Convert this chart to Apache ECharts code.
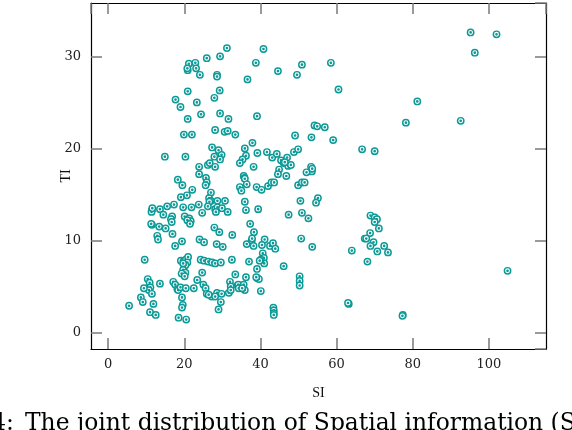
<!DOCTYPE html>
<html>
<head>
<meta charset="utf-8">
<script src="https://cdn.jsdelivr.net/npm/echarts@6/dist/echarts.min.js"></script>
<style>
html,body{margin:0;padding:0;background:#fff;}
#main{width:572px;height:430px;}
</style>
</head>
<body>
<div id="main"></div>
<script>
var siValues = [
31.2,40.8,25.9,29.4,21.2,22.9,38.8,20.9,20.8,23.1,24.1,28.6,28.6,44.6,36.6,20.9,29.3,17.7,27.9,23.3,
19.0,24.4,29.4,20.9,31.6,39.1,28.1,30.6,31.4,33.4,19.9,22.0,37.9,27.3,29.0,35.9,14.9,20.3,27.9,29.8,
29.4,39.2,41.7,43.1,44.3,36.2,35.3,34.6,47.0,45.4,46.1,47.3,26.2,26.7,28.1,23.9,38.2,23.9,18.3,25.7,
35.6,35.8,44.9,44.6,46.8,
95.2,102.0,96.3,50.9,58.5,49.6,60.5,81.2,78.2,92.6,54.2,54.9,56.9,49.1,53.4,59.1,66.7,70.0,48.8,49.9,
48.0,46.4,53.3,53.5,52.1,53.6,49.9,50.9,51.6,55.1,54.6,50.5,47.4,50.9,52.6,50.7,53.6,46.1,50.3,50.3,
50.3,63.2,63.0,77.4,77.3,68.9,70.0,70.6,70.0,71.1,68.8,67.4,67.8,69.7,68.9,72.5,70.7,73.5,64.0,68.1,
104.9,
19.5,25.9,25.6,22.1,20.7,19.1,27.0,26.5,27.0,26.6,28.7,30.7,26.2,23.8,21.9,19.7,17.3,15.5,13.6,11.5,
11.4,11.6,14.5,16.8,16.5,16.7,20.1,21.3,21.7,20.8,21.5,24.7,28.1,28.7,28.3,29.9,31.4,11.5,11.3,13.4,
15.1,16.9,12.9,13.1,17.6,19.4,27.9,29.2,32.6,24.0,25.2,28.5,30.1,9.6,19.1,19.9,20.4,21.0,20.8,20.3,
19.7,24.3,25.2,26.3,27.3,28.1,29.6,32.5,19.7,20.3,19.3,20.1,24.7,23.4,10.4,10.9,11.1,10.7,9.4,11.5,
13.6,8.6,9.1,5.5,11.9,11.0,12.5,17.1,17.6,18.2,18.4,19.0,20.4,22.5,19.4,19.6,19.4,25.0,25.6,25.9,
27.2,26.4,28.6,29.8,31.7,28.1,32.0,32.2,32.2,33.4,34.0,29.6,29.0,18.5,20.5,
35.9,34.6,35.0,36.4,39.0,40.3,42.0,42.9,43.6,35.9,36.2,39.4,37.3,38.3,36.4,37.7,38.2,37.8,41.1,40.4,
42.5,43.3,43.9,40.6,40.9,41.0,40.1,39.8,37.0,39.1,36.2,39.2,39.6,38.9,34.2,35.6,35.9,34.3,35.2,40.1,
43.4,43.5,43.5,43.5
];
var tiValues = [
30.9,30.8,29.8,30.0,29.2,29.3,29.3,28.5,28.7,28.7,28.0,28.0,27.8,28.4,27.5,26.2,26.3,25.3,25.5,25.0,
24.5,23.7,23.8,23.2,23.2,23.5,22.0,21.8,21.9,21.5,21.5,21.5,20.6,20.1,19.8,20.0,19.1,19.1,19.1,19.3,
18.8,19.5,19.6,19.0,19.4,19.2,18.8,18.4,19.0,18.7,18.4,18.1,18.2,18.4,18.0,18.0,18.0,17.2,16.6,16.8,
17.0,16.8,17.7,17.2,17.0,
32.6,32.4,30.4,29.1,29.3,28.0,26.4,25.1,22.8,23.0,22.5,22.4,22.3,21.4,21.2,20.9,19.9,19.7,19.6,19.9,
18.2,18.5,18.0,17.5,17.4,17.8,16.0,16.3,16.3,14.6,14.1,14.3,12.8,13.0,12.4,10.2,9.3,7.2,6.1,5.6,
5.1,3.1,3.2,1.9,1.8,12.7,12.5,12.3,12.0,11.3,10.8,10.2,10.2,9.8,9.4,9.4,8.8,8.7,8.9,7.7,
6.7,
16.0,16.3,16.0,15.5,14.9,14.7,15.2,14.6,14.3,14.2,14.3,14.3,13.7,13.9,13.6,13.6,13.9,13.7,13.4,13.3,
13.1,13.5,12.8,12.6,12.3,12.0,12.6,12.4,12.1,12.2,11.8,13.0,13.4,13.6,13.1,13.5,13.1,11.7,11.8,11.5,
11.3,10.7,10.5,10.1,9.4,9.9,11.4,10.9,10.6,10.1,9.8,9.6,9.3,7.9,7.8,7.8,7.9,8.2,7.6,7.3,
7.5,7.9,7.8,7.7,7.6,7.5,7.6,7.9,6.8,6.5,6.4,6.1,6.5,5.7,5.8,5.4,4.9,4.6,4.8,4.2,
5.3,3.8,3.3,2.9,3.1,2.2,1.9,5.5,5.2,4.7,4.6,4.9,4.8,4.8,3.8,3.0,2.7,5.2,4.8,4.2,
3.9,4.1,4.3,4.2,4.3,3.9,5.5,5.0,4.6,6.3,5.1,3.3,2.5,1.6,1.4,
16.7,15.8,15.4,16.1,15.8,15.5,15.9,16.3,16.3,14.2,13.3,13.4,11.8,10.9,9.6,10.0,9.4,10.2,10.1,9.5,
9.4,9.7,9.1,8.6,8.1,7.5,7.9,7.8,7.7,6.9,6.0,5.9,5.8,6.0,5.2,5.2,4.6,4.8,4.8,4.5,
2.7,2.4,2.1,1.9
];
var xTickStep = 20, yTickStep = 10;
var xLabelName = 'SI', yLabelName = 'TI';
var captionPrefix = 'Fig. 4:';
var captionText = 'The joint distribution of Spatial information (SI) and Temporal information (TI)';

var teal = '#0b9a97';
var pts = siValues.map(function(v, i){ return [v, tiValues[i]]; });
var tickFont = 'DejaVu Serif';
var nameFont = 'Liberation Serif';
function tickStyle(){ return {show: true, inside: true, length: 11, lineStyle: {color: '#7a7a7a', width: 1.5}}; }

function xAx(pos, showLabel){
  return {
    type: 'value', position: pos, min: -4.5, max: 115, show: true,
    minInterval: xTickStep, maxInterval: xTickStep, splitNumber: 6,
    name: showLabel ? xLabelName : '', nameLocation: 'middle', nameGap: 37, nameMoveOverlap: false,
    nameTextStyle: {fontFamily: nameFont, fontSize: 14, color: '#111'},
    axisLine: {show: true, onZero: false, lineStyle: {color: '#000', width: 1.2}},
    axisTick: tickStyle(),
    axisLabel: {show: showLabel, fontFamily: tickFont, fontSize: 13, color: '#222', margin: 9,
                showMinLabel: false, showMaxLabel: false},
    splitLine: {show: false}
  };
}
function yAx(pos, showLabel){
  return {
    type: 'value', position: pos, min: -1.8, max: 35.8, show: true,
    minInterval: yTickStep, maxInterval: yTickStep, splitNumber: 4,
    name: showLabel ? yLabelName : '', nameLocation: 'middle', nameGap: 18, nameRotate: 90, nameMoveOverlap: false,
    nameTextStyle: {fontFamily: nameFont, fontSize: 14, color: '#111'},
    axisLine: {show: true, onZero: false, lineStyle: {color: '#000', width: 1.2}},
    axisTick: tickStyle(),
    axisLabel: {show: showLabel, fontFamily: tickFont, fontSize: 13, color: '#222', margin: 10,
                showMinLabel: false, showMaxLabel: false},
    splitLine: {show: false}
  };
}

var chart = echarts.init(document.getElementById('main'), null, {renderer: 'canvas'});
chart.setOption({
  animation: false,
  backgroundColor: '#fff',
  grid: {left: 91, right: 26, top: 3, bottom: 81},
  xAxis: [xAx('bottom', true), xAx('top', false)],
  yAxis: [yAx('left', true), yAx('right', false)],
  series: [{
    type: 'custom',
    xAxisIndex: 0, yAxisIndex: 0,
    data: pts,
    renderItem: function(params, api){
      var c = api.coord([api.value(0), api.value(1)]);
      return {
        type: 'group',
        children: [
          {type: 'circle', shape: {cx: c[0], cy: c[1], r: 3.9}, style: {fill: teal}},
          {type: 'circle', shape: {cx: c[0], cy: c[1], r: 1.9}, style: {fill: teal, stroke: '#fff', lineWidth: 1.1}}
        ]
      };
    }
  }, {
    type: 'scatter', xAxisIndex: 1, yAxisIndex: 1, data: [], silent: true
  }],
  graphic: [
    {type: 'text', right: 558, top: 412, style: {text: captionPrefix, font: '23.4px "DejaVu Serif"', fill: '#000'}},
    {type: 'text', left: 25, top: 412, style: {text: captionText, font: '23.4px "DejaVu Serif"', fill: '#000'}}
  ]
});
</script>
</body>
</html>
